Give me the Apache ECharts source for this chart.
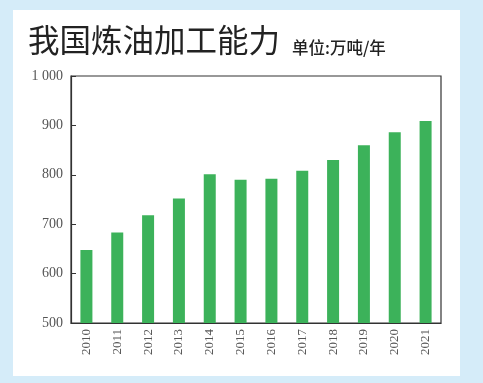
<!DOCTYPE html>
<html><head><meta charset="utf-8">
<script src="https://cdn.jsdelivr.net/npm/echarts@6/dist/echarts.min.js"></script>
<style>html,body{margin:0;padding:0;background:#d5ecf9;}#c{width:483px;height:383px;}</style>
</head><body><div id="c"></div>
<script>
const categories = ['2010','2011','2012','2013','2014','2015','2016','2017','2018','2019','2020','2021'];
const capacity = [648, 683, 718, 752, 801, 790, 792, 808, 830, 860, 886, 909];
const yTicks = [500, 600, 700, 800, 900, 1000];
const titleText = '我国炼油加工能力';
const unitText = '单位:万吨/年';

const chart = echarts.init(document.getElementById('c'), null, {renderer:'canvas'});
chart.setOption({
  backgroundColor: '#d5ecf9',
  animation: false,
  graphic: [
    {type:'rect', z:-10, shape:{x:13, y:10, width:447, height:366}, style:{fill:'#ffffff'}},
    {type:'rect', z:1, shape:{x:71, y:76, width:370, height:247}, style:{fill:'none', stroke:'#333', lineWidth:1.2}}
  ],
  title: [
    {text: titleText, left: 23, top: 19, textStyle:{fontFamily:'Noto Sans CJK SC', fontSize:31.5, fontWeight:'normal', color:'#222'}},
    {text: unitText, left: 287, top: 34, textStyle:{fontFamily:'Noto Sans CJK SC', fontSize:16.5, fontWeight:500, color:'#222'}}
  ],
  grid: {left:71, right:42, top:76, bottom:60, containLabel:false},
  xAxis: {
    type:'category', data: categories,
    axisLine:{show:true, lineStyle:{color:'#333', width:1.2}},
    axisTick:{show:false},
    axisLabel:{rotate:90, fontFamily:'Liberation Serif', fontSize:13, color:'#555', margin:6}
  },
  yAxis: {
    type:'value', min:500, max:1000, interval:100,
    axisLine:{show:true, lineStyle:{color:'#333', width:1.2}},
    axisTick:{show:true, inside:true, length:5, lineStyle:{color:'#333'}},
    splitLine:{show:false},
    axisLabel:{fontFamily:'Liberation Serif', fontSize:14, color:'#555', margin:8,
      formatter: v => yTicks.includes(v) ? (v >= 1000 ? '1 000' : String(v)) : ''}
  },
  series: [{
    type:'bar', data: capacity, barWidth:12,
    itemStyle:{color:'#3cb25a'}
  }]
});
</script></body></html>
